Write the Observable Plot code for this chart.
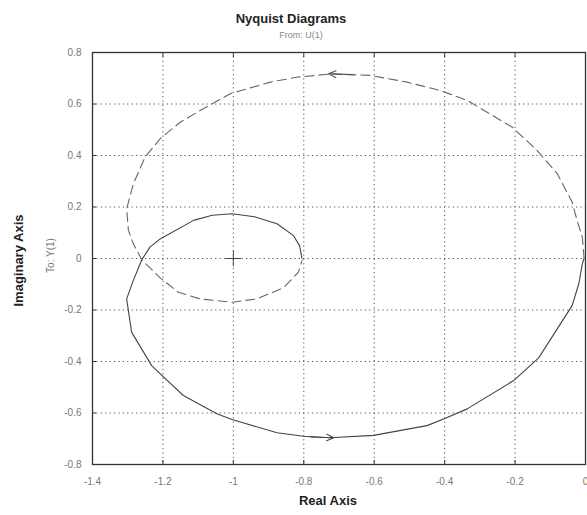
<!DOCTYPE html>
<html>
<head>
<meta charset="utf-8">
<script src="https://cdn.jsdelivr.net/npm/d3@7"></script>
<script src="https://cdn.jsdelivr.net/npm/@observablehq/plot@0.6"></script>
<style>
  html, body { margin: 0; padding: 0; background: #fff; }
  #chart { width: 587px; height: 515px; }
  svg text { font-family: "Liberation Sans", Arial, sans-serif; }
</style>
</head>
<body>
<div id="chart"></div>
<script>
// ---- data ----
const xTicks = [-1.4, -1.2, -1, -0.8, -0.6, -0.4, -0.2, 0];
const yTicks = [-0.8, -0.6, -0.4, -0.2, 0, 0.2, 0.4, 0.6, 0.8];

// solid branch (positive frequencies)
const solidRe = [-0.805, -0.812, -0.83, -0.876, -0.94, -1.004, -1.06, -1.113, -1.208, -1.237, -1.26, -1.284, -1.303, -1.289, -1.232, -1.203, -1.142, -1.047, -1.004, -0.876, -0.801, -0.725, -0.602, -0.45, -0.403, -0.336, -0.204, -0.133, -0.038, -0.019, -0.009, -0.004];
const solidIm = [0.0, 0.05, 0.09, 0.135, 0.162, 0.174, 0.168, 0.148, 0.076, 0.044, -0.005, -0.085, -0.157, -0.286, -0.416, -0.454, -0.532, -0.603, -0.625, -0.677, -0.69, -0.696, -0.687, -0.649, -0.623, -0.584, -0.474, -0.386, -0.183, -0.098, -0.021, 0.0];

// dashed branch (negative frequencies)
const dashedRe = [-0.004, -0.009, -0.024, -0.038, -0.08, -0.137, -0.208, -0.336, -0.412, -0.507, -0.611, -0.72, -0.82, -0.895, -1.009, -1.094, -1.151, -1.208, -1.251, -1.284, -1.303, -1.298, -1.284, -1.26, -1.208, -1.156, -1.094, -1.004, -0.933, -0.858, -0.815, -0.805];
const dashedIm = [0.0, 0.083, 0.148, 0.219, 0.329, 0.419, 0.51, 0.614, 0.652, 0.685, 0.711, 0.717, 0.704, 0.685, 0.64, 0.575, 0.529, 0.465, 0.393, 0.29, 0.193, 0.109, 0.057, -0.005, -0.075, -0.131, -0.157, -0.17, -0.157, -0.114, -0.053, -0.008];

// direction arrows: [from x, from y, to x, to y]
const arrowSolid = [-0.78, -0.693, -0.715, -0.696];
const arrowDashed = [-0.66, 0.714, -0.73, 0.717];

// critical point
const critical = [[-1, 0]];

const titleText = "Nyquist Diagrams";
const subtitleText = "From: U(1)";
const xLabel = "Real Axis";
const yLabel = "Imaginary Axis";
const yLabel2 = "To: Y(1)";

// ---- build ----
const solid = solidRe.map((x, i) => ({x, y: solidIm[i]}));
const dashed = dashedRe.map((x, i) => ({x, y: dashedIm[i]}));
const arrows = [arrowSolid, arrowDashed].map(a => ({x1: a[0], y1: a[1], x2: a[2], y2: a[3], c: a === arrowSolid ? "#444" : "#555"}));
const fmt = d => String(+d.toFixed(1)).replace("−", "-");

const chart = Plot.plot({
  width: 587,
  height: 515,
  marginLeft: 92,
  marginRight: 2,
  marginTop: 52,
  marginBottom: 51,
  style: {fontFamily: "Liberation Sans, Arial, sans-serif", background: "#fff"},
  x: {domain: [-1.4, 0]},
  y: {domain: [-0.8, 0.8]},
  marks: [
    Plot.ruleX(xTicks, {stroke: "#333", strokeWidth: 1, strokeDasharray: "1.2,3.2", strokeOpacity: 0.85}),
    Plot.ruleY(yTicks, {stroke: "#333", strokeWidth: 1, strokeDasharray: "1.2,3.2", strokeOpacity: 0.85}),
    Plot.axisX(xTicks, {tickSize: -4, tickPadding: 17, tickFormat: fmt, fill: "#777", fontSize: 10, stroke: "#333", label: null}),
    Plot.axisY(yTicks, {tickSize: -4, tickPadding: 15, tickFormat: fmt, fill: "#777", fontSize: 10, stroke: "#333", label: null}),
    Plot.axisX(xTicks, {anchor: "top", tickSize: -4, tickFormat: () => "", stroke: "#333", label: null}),
    Plot.frame({stroke: "#333", strokeWidth: 1.3}),
    Plot.line(solid, {x: "x", y: "y", stroke: "#444", strokeWidth: 1.1, curve: "linear"}),
    Plot.line(dashed, {x: "x", y: "y", stroke: "#666", strokeWidth: 1.1, strokeDasharray: "9,5", curve: "linear"}),
    Plot.arrow(arrows, {x1: "x1", y1: "y1", x2: "x2", y2: "y2", stroke: "c", strokeWidth: 1.1, headLength: 14, headAngle: 50}),
    Plot.dot(critical, {x: d => d[0], y: d => d[1], symbol: "plus", r: 5, stroke: "#444", strokeWidth: 1}),
    Plot.text([titleText], {frameAnchor: "top", dx: -48, dy: -39, fontSize: 13, fontWeight: "bold", fill: "#222"}),
    Plot.text([subtitleText], {frameAnchor: "top", dx: -38, dy: -21, fontSize: 9, fill: "#888"}),
    Plot.text([xLabel], {frameAnchor: "bottom", dx: -11, dy: 40, fontSize: 13, fontWeight: "bold", fill: "#222"}),
    Plot.text([yLabel], {frameAnchor: "left", textAnchor: "middle", dx: -74, dy: 2, rotate: -90, fontSize: 13, fontWeight: "bold", fill: "#222"}),
    Plot.text([yLabel2], {frameAnchor: "left", textAnchor: "middle", dx: -42, dy: -3, rotate: -90, fontSize: 10, fill: "#777"})
  ]
});
document.getElementById("chart").appendChild(chart);
</script>
</body>
</html>
